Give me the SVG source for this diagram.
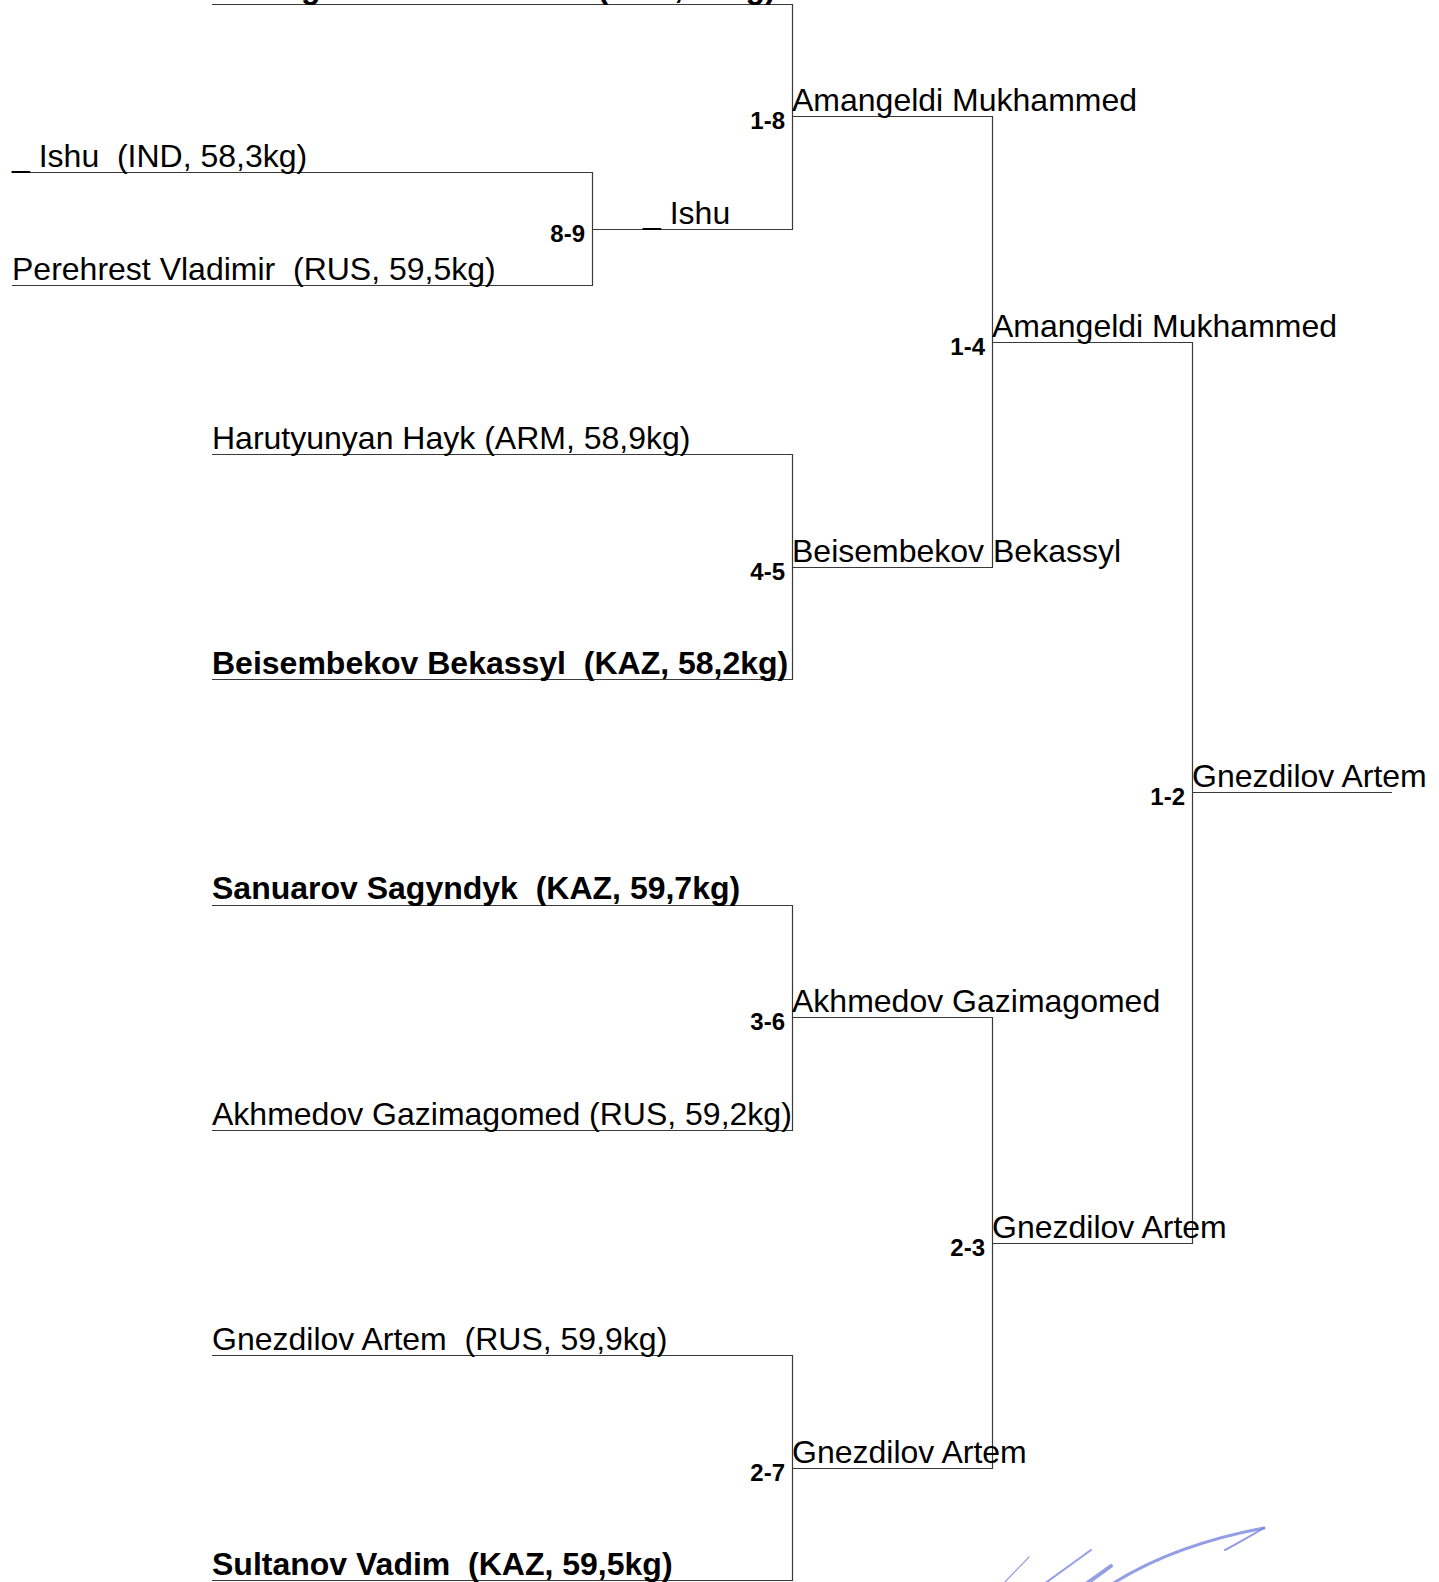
<svg xmlns="http://www.w3.org/2000/svg" width="1439" height="1582" viewBox="0 0 1439 1582" xml:space="preserve">
<style>
  .bg{fill:#ffffff}
  text{white-space:pre}
  .nm{font-family:"Liberation Sans",Arial,sans-serif;font-size:32px;fill:#000}
  .nb{font-family:"Liberation Sans",Arial,sans-serif;font-size:32px;font-weight:bold;fill:#000}
  .lb{font-family:"Liberation Sans",Arial,sans-serif;font-size:24px;font-weight:bold;fill:#000;text-anchor:end}
  .ln{fill:none;stroke:#3a3a3a;stroke-width:1.2}
  .sig{fill:none;stroke:#6f7ddc;stroke-linecap:round;stroke-opacity:0.75}
</style>
<rect class="bg" x="0" y="0" width="1439" height="1582"/>
<g id="connectors">
  <path class="ln" d="M212 4.5 H792.5 V229.5 H592.5"/>
  <path class="ln" d="M12 172.5 H592.5 V285.5 H12"/>
  <path class="ln" d="M792.5 116.5 H992.5 V567.5 H792.5"/>
  <path class="ln" d="M212 454.5 H792.5 V679.5 H212"/>
  <path class="ln" d="M992.5 342.5 H1192.5 V1243.5 H992.5"/>
  <path class="ln" d="M1192.5 792.5 H1392"/>
  <path class="ln" d="M212 905.5 H792.5 V1130.5 H212"/>
  <path class="ln" d="M792.5 1017.5 H992.5 V1468.5 H792.5"/>
  <path class="ln" d="M212 1355.5 H792.5 V1580.5 H212"/>
</g>
<g id="entry-amangeldi"><text class="nb" x="212" y="-2">Amangeldi Mukhammed  (KAZ, 58kg)</text></g>
<g id="entry-ishu"><text class="nm" x="12" y="167">_ Ishu  (IND, 58,3kg)</text></g>
<g id="entry-perehrest"><text class="nm" x="12" y="280">Perehrest Vladimir  (RUS, 59,5kg)</text></g>
<g id="entry-harutyunyan"><text class="nm" x="212" y="449">Harutyunyan Hayk (ARM, 58,9kg)</text></g>
<g id="entry-beisembekov"><text class="nb" x="212" y="674">Beisembekov Bekassyl  (KAZ, 58,2kg)</text></g>
<g id="entry-sanuarov"><text class="nb" x="212" y="899">Sanuarov Sagyndyk  (KAZ, 59,7kg)</text></g>
<g id="entry-akhmedov"><text class="nm" x="212" y="1125">Akhmedov Gazimagomed (RUS, 59,2kg)</text></g>
<g id="entry-gnezdilov"><text class="nm" x="212" y="1350">Gnezdilov Artem  (RUS, 59,9kg)</text></g>
<g id="entry-sultanov"><text class="nb" x="212" y="1575">Sultanov Vadim  (KAZ, 59,5kg)</text></g>
<g id="match-8-9">
  <text class="lb" x="585" y="242">8-9</text>
  <text class="nm" x="643" y="224">_ Ishu</text>
</g>
<g id="match-1-8">
  <text class="lb" x="785" y="129">1-8</text>
  <text class="nm" x="792" y="111">Amangeldi Mukhammed</text>
</g>
<g id="match-4-5">
  <text class="lb" x="785" y="580">4-5</text>
  <text class="nm" x="792" y="562">Beisembekov Bekassyl</text>
</g>
<g id="match-1-4">
  <text class="lb" x="985" y="355">1-4</text>
  <text class="nm" x="992" y="337">Amangeldi Mukhammed</text>
</g>
<g id="match-3-6">
  <text class="lb" x="785" y="1030">3-6</text>
  <text class="nm" x="792" y="1012">Akhmedov Gazimagomed</text>
</g>
<g id="match-2-7">
  <text class="lb" x="785" y="1481">2-7</text>
  <text class="nm" x="792" y="1463">Gnezdilov Artem</text>
</g>
<g id="match-2-3">
  <text class="lb" x="985" y="1256">2-3</text>
  <text class="nm" x="992" y="1238">Gnezdilov Artem</text>
</g>
<g id="match-1-2">
  <text class="lb" x="1185" y="805">1-2</text>
  <text class="nm" x="1192" y="787">Gnezdilov Artem</text>
</g>
<g id="signature">
  <path class="sig" stroke-width="3" d="M1112 1584 C1150 1560 1200 1540 1264 1528"/>
  <path class="sig" stroke-width="2" d="M1264 1528 C1250 1536 1238 1543 1225 1550"/>
  <path class="sig" stroke-width="2" d="M1044 1584 L1091 1550"/>
  <path class="sig" stroke-width="4" d="M1086 1584 L1111 1566"/>
  <path class="sig" stroke-width="1.2" stroke-opacity="0.4" d="M1003 1584 L1029 1557"/>
</g>
</svg>
